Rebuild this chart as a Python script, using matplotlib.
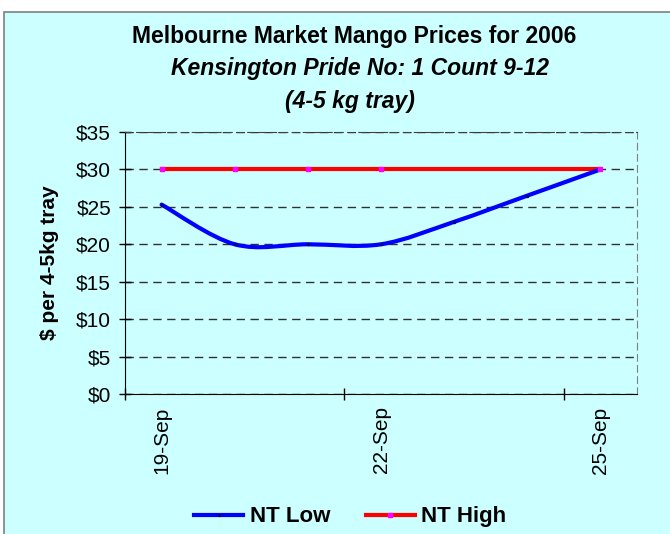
import matplotlib
matplotlib.use("Agg")
import matplotlib.pyplot as plt
from matplotlib.path import Path
from matplotlib.patches import PathPatch, Rectangle
from matplotlib.lines import Line2D

plt.rcParams['font.family'] = ['Liberation Sans', 'DejaVu Sans']

## datos (dias de septiembre 2006)
days_low = [19, 20, 21, 22, 23, 24, 25]
nt_low = [25.3, 20.0, 20.0, 20.0, 23.0, 26.5, 30.0]
days_high = [19, 20, 21, 22, 25]
nt_high = [30, 30, 30, 30, 30]
tick_days = [19, 22, 25]
tick_labels = ['19-Sep', '22-Sep', '25-Sep']
y_ticks = [0, 5, 10, 15, 20, 25, 30, 35]

BG = '#CCFFFF'


def smooth_path(xs, ys):
    ## curva suavizada tipo Excel con beziers cubicas
    verts = [(xs[0], ys[0])]
    codes = [Path.MOVETO]
    n = len(xs)
    for i in range(n - 1):
        x0, y0 = xs[max(i - 1, 0)], ys[max(i - 1, 0)]
        x1, y1 = xs[i], ys[i]
        x2, y2 = xs[i + 1], ys[i + 1]
        x3, y3 = xs[min(i + 2, n - 1)], ys[min(i + 2, n - 1)]
        c1 = (x1 + (x2 - x0) / 6, y1 + (y2 - y0) / 6)
        c2 = (x2 - (x3 - x1) / 6, y2 - (y3 - y1) / 6)
        verts += [c1, c2, (x2, y2)]
        codes += [Path.CURVE4] * 3
    return Path(verts, codes)


fig = plt.figure(figsize=(6.7, 5.34), dpi=100)
fig.patch.set_facecolor('white')
fig.add_artist(Rectangle((0.006, -0.01), 1.0, 0.9875, transform=fig.transFigure,
                         facecolor=BG, edgecolor='#808080', linewidth=1.2, zorder=0))

ax = fig.add_axes([0.1866, 0.2622, 0.7642, 0.4906])
ax.set_facecolor(BG)

ax.add_patch(PathPatch(smooth_path(days_low, nt_low), facecolor='none',
                       edgecolor='#0000FF', linewidth=3, capstyle='round', zorder=3))
ax.plot(days_low, nt_low, linestyle='none', marker='o', markersize=1.5,
        color='#000080', zorder=4)
ax.plot(days_high, nt_high, color='#FF0000', linewidth=3, zorder=2)
ax.plot(days_high, nt_high, linestyle='none', marker='s', markersize=3,
        color='#FF00FF', zorder=4)

ax.set_xlim(18.5, 25.5)
ax.set_ylim(0, 35)
ax.set_yticks(y_ticks)
ax.set_yticklabels(['$%d' % v for v in y_ticks], fontsize=15)
ax.yaxis.grid(True, color='#303030', linestyle=(0, (6, 4)), linewidth=1)
ax.set_axisbelow(True)

## ticks entre categorias, etiquetas en los dias
ax.set_xticks([d - 0.5 for d in tick_days])
ax.set_xticklabels([])
ax.set_xticks(tick_days, minor=True)
ax.set_xticklabels(tick_labels, minor=True, rotation=90, fontsize=15)
ax.tick_params(axis='x', which='minor', length=0, pad=9)
ax.tick_params(axis='both', which='major', direction='inout', length=8, width=1)
ax.tick_params(axis='y', which='major', pad=6)

ax.spines['top'].set_linestyle((0, (6, 4)))
ax.spines['top'].set_color('#404040')
ax.spines['right'].set_linestyle((0, (6, 4)))
ax.spines['right'].set_color('#808080')

ax.set_ylabel('$ per 4-5kg tray', fontsize=15, fontweight='bold', labelpad=12)

fig.text(0.528, 0.932, 'Melbourne Market Mango Prices for 2006', ha='center', va='center',
         fontsize=16.5, fontweight='bold')
fig.text(0.537, 0.871, 'Kensington Pride No: 1 Count 9-12', ha='center', va='center',
         fontsize=16.5, fontweight='bold', style='italic')
fig.text(0.523, 0.809, '(4-5 kg tray)', ha='center', va='center',
         fontsize=16.5, fontweight='bold', style='italic')

handles = [Line2D([], [], color='#0000FF', linewidth=3, marker='o', markersize=1.5,
                  markerfacecolor='#000080', markeredgecolor='#000080'),
           Line2D([], [], color='#FF0000', linewidth=3, marker='s', markersize=3,
                  markerfacecolor='#FF00FF', markeredgecolor='#FF00FF')]
fig.legend(handles, ['NT Low', 'NT High'], loc='center', bbox_to_anchor=(0.523, 0.032),
           ncol=2, frameon=False, prop={'weight': 'bold', 'size': 16},
           handlelength=2.2, handletextpad=0.3, columnspacing=1.6)

fig.savefig('out.png', dpi=100)
